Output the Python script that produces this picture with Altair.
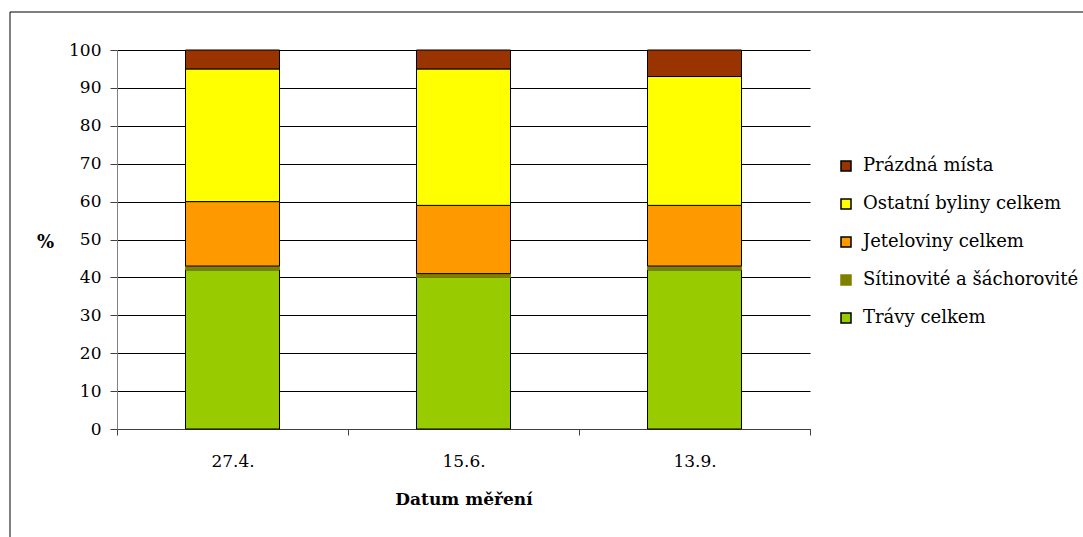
import altair as alt
import pandas as pd

# Measurement dates and composition of the sward (% cover)
dates = ["27.4.", "15.6.", "13.9."]
series = [
    "Trávy celkem",
    "Sítinovité a šáchorovité",
    "Jeteloviny celkem",
    "Ostatní byliny celkem",
    "Prázdná místa",
]
travy = [42, 40, 42]
sitinovite = [1, 1, 1]
jeteloviny = [17, 18, 16]
ostatni = [35, 36, 34]
prazdna = [5, 5, 7]

colors = ["#99CC00", "#808000", "#FF9900", "#FFFF00", "#993300"]
strokes = ["#000000", "#808000", "#000000", "#000000", "#000000"]

values = [travy, sitinovite, jeteloviny, ostatni, prazdna]
rows = []
for si, name in enumerate(series):
    for di, d in enumerate(dates):
        rows.append({"datum": d, "skupina": name, "podil": values[si][di], "poradi": si})
df = pd.DataFrame(rows)

FONT = "DejaVu Serif"
W, H = 693, 379
LEFT, TOP = 117, 50

# legend lists the top segment first
legend_domain = list(reversed(series))
legend_colors = list(reversed(colors))
legend_strokes = list(reversed(strokes))

legend_style = dict(
    title=None,
    orient="none",
    legendX=720,
    legendY=107,
    symbolType="square",
    symbolSize=100,
    symbolStrokeWidth=1.5,
    rowPadding=20,
    labelOffset=8,
    labelLimit=300,
)

bars = alt.Chart(df).mark_bar(size=94, strokeWidth=1).encode(
    x=alt.X(
        "datum:N",
        sort=dates,
        scale=alt.Scale(paddingInner=0, paddingOuter=0),
        axis=alt.Axis(
            title="Datum měření",
            labelAngle=0,
            tickBand="extent",
            tickSize=6,
            labelPadding=18,
            titlePadding=22,
        ),
    ),
    y=alt.Y(
        "podil:Q",
        stack="zero",
        scale=alt.Scale(domain=[0, 100], nice=False),
        axis=alt.Axis(
            title="%",
            values=list(range(0, 101, 10)),
            tickSize=7,
            domainColor="#808080",
            labelPadding=9,
            titleAngle=0,
            titleAlign="center",
            titleBaseline="middle",
            titleFontSize=18,
            titleX=-72,
            titleY=192,
        ),
    ),
    color=alt.Color(
        "skupina:N",
        scale=alt.Scale(domain=legend_domain, range=legend_colors),
        legend=alt.Legend(**legend_style),
    ),
    stroke=alt.Stroke(
        "skupina:N",
        scale=alt.Scale(domain=legend_domain, range=legend_strokes),
        legend=alt.Legend(**legend_style),
    ),
    order=alt.Order("poradi:Q", sort="ascending"),
)

# Outer frame around the whole figure
frame = alt.Chart(pd.DataFrame({"k": [0]})).mark_rect(
    fill=None, stroke="#000000", strokeWidth=1
).encode(
    x=alt.value(-107),
    x2=alt.value(1083 - LEFT + 10),
    y=alt.value(-38),
    y2=alt.value(537 - TOP + 10),
)

chart = (
    alt.layer(frame, bars)
    .properties(
        width=W,
        height=H,
        autosize=alt.AutoSizeParams(type="none"),
        padding={"left": LEFT, "top": TOP, "right": 1083 - LEFT - W, "bottom": 537 - TOP - H},
        background="#ffffff",
    )
    .configure(font=FONT)
    .configure_view(stroke=None)
    .configure_axis(
        labelFont=FONT,
        labelFontSize=17,
        labelColor="#000000",
        titleFont=FONT,
        titleFontSize=17,
        titleFontWeight="bold",
        titleColor="#000000",
        tickColor="#404040",
        domainColor="#404040",
        gridColor="#000000",
        gridWidth=1,
    )
    .configure_legend(
        labelFont=FONT,
        labelFontSize=18,
        labelColor="#000000",
    )
)

chart.save("out.html", embed_options={"renderer": "svg", "actions": False})
